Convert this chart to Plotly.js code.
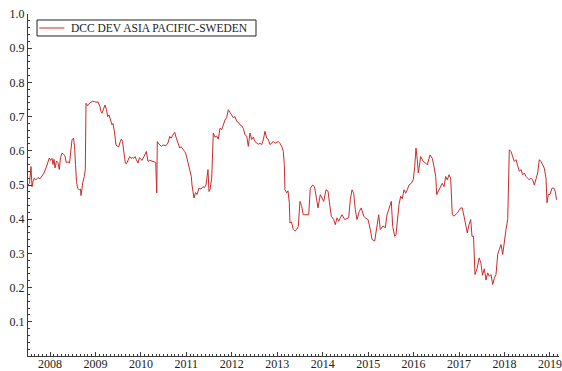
<!DOCTYPE html>
<html>
<head>
<meta charset="utf-8">
<script src="https://cdn.plot.ly/plotly-3.0.1.min.js"></script>
<style>
  html, body { margin: 0; padding: 0; background: #fff; }
  #chart { width: 562px; height: 371px; }
</style>
</head>
<body>
<div id="chart"></div>
<script>
// Weekly DCC correlation, developed Asia Pacific vs Sweden (time in decimal years)
const seriesName = 'DCC DEV ASIA PACIFIC-SWEDEN';

const dates = [
  2007.516, 2007.549, 2007.582, 2007.604, 2007.626, 2007.655, 2007.692, 2007.736, 2007.780, 2007.824,
  2007.868, 2007.912, 2007.956, 2007.985, 2008.011, 2008.044, 2008.066, 2008.088, 2008.110, 2008.143,
  2008.176, 2008.205, 2008.231, 2008.264, 2008.297, 2008.330, 2008.359, 2008.396, 2008.429, 2008.462,
  2008.484, 2008.517, 2008.539, 2008.561, 2008.583, 2008.609, 2008.645, 2008.671, 2008.682, 2008.704,
  2008.719, 2008.755, 2008.777, 2008.792, 2008.825, 2008.858, 2008.902, 2008.939, 2008.979, 2009.012,
  2009.056, 2009.078, 2009.100, 2009.122, 2009.144, 2009.177, 2009.210, 2009.243, 2009.270, 2009.298,
  2009.331, 2009.364, 2009.386, 2009.419, 2009.452, 2009.485, 2009.512, 2009.540, 2009.569, 2009.595,
  2009.628, 2009.657, 2009.683, 2009.716, 2009.754, 2009.782, 2009.815, 2009.848, 2009.877, 2009.899,
  2009.936, 2009.969, 2010.002, 2010.024, 2010.068, 2010.119, 2010.156, 2010.189, 2010.222, 2010.255,
  2010.288, 2010.326, 2010.348, 2010.361, 2010.398, 2010.449, 2010.486, 2010.519, 2010.552, 2010.596,
  2010.634, 2010.662, 2010.706, 2010.744, 2010.772, 2010.816, 2010.854, 2010.882, 2010.926, 2010.964,
  2010.992, 2011.036, 2011.074, 2011.109, 2011.124, 2011.146, 2011.168, 2011.201, 2011.234, 2011.278,
  2011.322, 2011.366, 2011.399, 2011.432, 2011.454, 2011.476, 2011.498, 2011.520, 2011.558, 2011.593,
  2011.630, 2011.668, 2011.703, 2011.740, 2011.778, 2011.813, 2011.850, 2011.888, 2011.923, 2011.960,
  2011.998, 2012.033, 2012.070, 2012.108, 2012.147, 2012.180, 2012.218, 2012.253, 2012.290, 2012.328,
  2012.363, 2012.400, 2012.438, 2012.473, 2012.510, 2012.548, 2012.583, 2012.620, 2012.658, 2012.693,
  2012.730, 2012.768, 2012.803, 2012.840, 2012.878, 2012.913, 2012.950, 2012.988, 2013.023, 2013.060,
  2013.098, 2013.133, 2013.155, 2013.170, 2013.208, 2013.236, 2013.265, 2013.280, 2013.313, 2013.353,
  2013.390, 2013.428, 2013.463, 2013.500, 2013.533, 2013.573, 2013.617, 2013.655, 2013.692, 2013.727,
  2013.780, 2013.820, 2013.853, 2013.897, 2013.947, 2013.985, 2014.022, 2014.073, 2014.117, 2014.145,
  2014.189, 2014.242, 2014.277, 2014.315, 2014.352, 2014.387, 2014.425, 2014.484, 2014.535, 2014.572,
  2014.607, 2014.645, 2014.682, 2014.717, 2014.755, 2014.805, 2014.849, 2014.902, 2014.937, 2014.997,
  2015.047, 2015.085, 2015.144, 2015.195, 2015.232, 2015.267, 2015.327, 2015.377, 2015.415, 2015.452,
  2015.487, 2015.509, 2015.540, 2015.584, 2015.613, 2015.641, 2015.679, 2015.716, 2015.751, 2015.789,
  2015.826, 2015.861, 2015.899, 2015.949, 2015.993, 2016.024, 2016.053, 2016.081, 2016.103, 2016.156,
  2016.213, 2016.266, 2016.301, 2016.361, 2016.411, 2016.449, 2016.486, 2016.508, 2016.559, 2016.596,
  2016.631, 2016.669, 2016.706, 2016.741, 2016.779, 2016.816, 2016.851, 2016.889, 2016.961, 2017.036,
  2017.071, 2017.109, 2017.146, 2017.181, 2017.219, 2017.256, 2017.285, 2017.318, 2017.351, 2017.395,
  2017.443, 2017.483, 2017.516, 2017.556, 2017.593, 2017.630, 2017.666, 2017.703, 2017.740, 2017.776,
  2017.813, 2017.850, 2017.886, 2017.923, 2017.960, 2017.996, 2018.033, 2018.070, 2018.092, 2018.106,
  2018.143, 2018.180, 2018.216, 2018.253, 2018.290, 2018.326, 2018.363, 2018.400, 2018.436, 2018.473,
  2018.510, 2018.546, 2018.583, 2018.620, 2018.656, 2018.693, 2018.730, 2018.766, 2018.803, 2018.840,
  2018.876, 2018.913, 2018.935, 2018.964, 2019.001, 2019.045, 2019.082, 2019.118, 2019.144
];

const correlation = [
  0.500, 0.505, 0.554, 0.495, 0.510, 0.520, 0.515, 0.522, 0.518, 0.525,
  0.535, 0.550, 0.565, 0.579, 0.572, 0.578, 0.560, 0.575, 0.550, 0.570,
  0.565, 0.545, 0.580, 0.593, 0.590, 0.585, 0.565, 0.568, 0.564, 0.600,
  0.632, 0.637, 0.615, 0.560, 0.510, 0.490, 0.486, 0.488, 0.469, 0.490,
  0.506, 0.525, 0.545, 0.739, 0.732, 0.738, 0.742, 0.745, 0.744, 0.742,
  0.743, 0.738, 0.729, 0.715, 0.710, 0.722, 0.734, 0.720, 0.700, 0.705,
  0.690, 0.676, 0.680, 0.655, 0.617, 0.612, 0.611, 0.625, 0.634, 0.628,
  0.600, 0.564, 0.562, 0.570, 0.583, 0.578, 0.580, 0.578, 0.583, 0.574,
  0.564, 0.580, 0.576, 0.572, 0.583, 0.598, 0.569, 0.572, 0.571, 0.570,
  0.569, 0.566, 0.477, 0.627, 0.620, 0.613, 0.617, 0.616, 0.615, 0.623,
  0.642, 0.637, 0.647, 0.654, 0.640, 0.623, 0.608, 0.612, 0.605, 0.598,
  0.590, 0.564, 0.550, 0.525, 0.500, 0.472, 0.462, 0.478, 0.472, 0.491,
  0.488, 0.495, 0.492, 0.500, 0.520, 0.545, 0.481, 0.486, 0.520, 0.652,
  0.640, 0.643, 0.634, 0.666, 0.662, 0.676, 0.690, 0.698, 0.720, 0.712,
  0.705, 0.697, 0.700, 0.686, 0.683, 0.676, 0.673, 0.666, 0.647, 0.643,
  0.613, 0.652, 0.633, 0.640, 0.627, 0.622, 0.619, 0.622, 0.618, 0.632,
  0.657, 0.637, 0.633, 0.618, 0.622, 0.627, 0.622, 0.625, 0.627, 0.622,
  0.613, 0.598, 0.560, 0.486, 0.477, 0.483, 0.448, 0.389, 0.392, 0.370,
  0.365, 0.370, 0.379, 0.452, 0.440, 0.413, 0.413, 0.415, 0.413, 0.490,
  0.500, 0.495, 0.472, 0.433, 0.472, 0.462, 0.452, 0.486, 0.482, 0.452,
  0.409, 0.399, 0.384, 0.404, 0.394, 0.404, 0.413, 0.399, 0.401, 0.404,
  0.457, 0.486, 0.476, 0.428, 0.399, 0.423, 0.433, 0.409, 0.404, 0.399,
  0.370, 0.341, 0.336, 0.375, 0.413, 0.370, 0.380, 0.375, 0.413, 0.428,
  0.443, 0.452, 0.379, 0.350, 0.355, 0.404, 0.443, 0.467, 0.460, 0.486,
  0.476, 0.486, 0.500, 0.505, 0.516, 0.554, 0.608, 0.574, 0.535, 0.583,
  0.569, 0.564, 0.559, 0.588, 0.578, 0.554, 0.525, 0.472, 0.486, 0.495,
  0.505, 0.495, 0.525, 0.515, 0.530, 0.520, 0.413, 0.409, 0.418, 0.433,
  0.433, 0.409, 0.379, 0.360, 0.384, 0.399, 0.350, 0.350, 0.238, 0.255,
  0.287, 0.270, 0.236, 0.255, 0.222, 0.243, 0.233, 0.238, 0.209, 0.228,
  0.238, 0.297, 0.312, 0.326, 0.297, 0.341, 0.370, 0.399, 0.486, 0.603,
  0.598, 0.579, 0.569, 0.574, 0.554, 0.540, 0.545, 0.530, 0.535, 0.525,
  0.520, 0.515, 0.520, 0.515, 0.500, 0.520, 0.535, 0.574, 0.569, 0.559,
  0.549, 0.520, 0.448, 0.472, 0.472, 0.491, 0.491, 0.481, 0.457
];

const yearTicks = [2008, 2009, 2010, 2011, 2012, 2013, 2014, 2015, 2016, 2017, 2018, 2019];
const yearLabels = ['2008', '2009', '2010', '2011', '2012', '2013', '2014', '2015', '2016', '2017', '2018', '2019'];
const valueTicks = [0.1, 0.2, 0.3, 0.4, 0.5, 0.6, 0.7, 0.8, 0.9, 1.0];
const valueLabels = ['0.1', '0.2', '0.3', '0.4', '0.5', '0.6', '0.7', '0.8', '0.9', '1.0'];

const serif = 'Liberation Serif, Times New Roman, serif';
const axisColor = '#3a3a3a';
const lineColor = '#cc2b2b';

const trace = {
  type: 'scatter',
  mode: 'lines',
  name: seriesName,
  x: dates,
  y: correlation,
  line: { color: lineColor, width: 1 },
  showlegend: false,
  hoverinfo: 'x+y'
};

// Compact boxed key in the upper-left corner of the plot area
const keyBox = { x0: 0.017, x1: 0.4294, y0: 0.9357, y1: 0.9825 };
const keyMidY = (keyBox.y0 + keyBox.y1) / 2;

const layout = {
  width: 562,
  height: 371,
  margin: { l: 28, r: 3, t: 14, b: 15, pad: 0 },
  paper_bgcolor: '#ffffff',
  plot_bgcolor: '#ffffff',
  font: { family: serif, size: 12, color: '#222' },
  showlegend: false,
  shapes: [
    { type: 'rect', xref: 'paper', yref: 'paper', x0: keyBox.x0, x1: keyBox.x1, y0: keyBox.y0, y1: keyBox.y1,
      line: { color: '#222', width: 1 }, fillcolor: '#ffffff', layer: 'above' },
    { type: 'line', xref: 'paper', yref: 'paper', x0: 0.0213, x1: 0.0684, y0: keyMidY, y1: keyMidY,
      line: { color: lineColor, width: 1 }, layer: 'above' }
  ],
  annotations: [
    { xref: 'paper', yref: 'paper', x: 0.0765, y: keyMidY, xanchor: 'left', yanchor: 'middle',
      text: seriesName, showarrow: false, font: { family: serif, size: 11.5, color: '#222' } }
  ],
  xaxis: {
    range: [2007.516, 2019.199],
    showgrid: false, zeroline: false,
    showline: true, linecolor: axisColor, linewidth: 1,
    ticks: 'inside', ticklen: 4, tickwidth: 1, tickcolor: axisColor,
    tickmode: 'array', tickvals: yearTicks, ticktext: yearLabels,
    tickfont: { family: serif, size: 12, color: '#222' },
    ticklabelstandoff: -3,
    minor: { tickmode: 'linear', tick0: 2008, dtick: 1 / 12, ticks: 'inside', ticklen: 2, tickcolor: axisColor, showgrid: false },
    automargin: false
  },
  yaxis: {
    range: [0, 1],
    showgrid: false, zeroline: false,
    showline: true, linecolor: axisColor, linewidth: 1,
    ticks: 'inside', ticklen: 4, tickwidth: 1, tickcolor: axisColor,
    tickmode: 'array', tickvals: valueTicks, ticktext: valueLabels,
    tickfont: { family: serif, size: 12, color: '#222' },
    minor: { tickmode: 'linear', tick0: 0, dtick: 0.02, ticks: 'inside', ticklen: 2, tickcolor: axisColor, showgrid: false },
    automargin: false
  }
};

Plotly.newPlot('chart', [trace], layout, { displayModeBar: false, staticPlot: true });
</script>
</body>
</html>
